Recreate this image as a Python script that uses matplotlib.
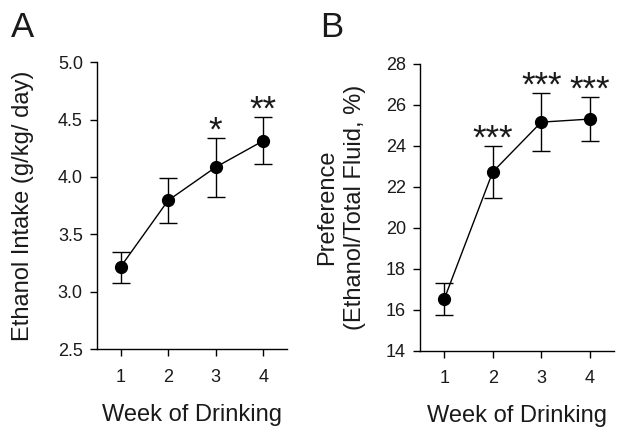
import matplotlib
matplotlib.use("Agg")
import matplotlib.pyplot as plt

plt.rcParams['font.family'] = ['Liberation Sans', 'DejaVu Sans']

weeks = [1, 2, 3, 4]
intake_mean = [3.215, 3.795, 4.085, 4.315]
intake_err = [0.135, 0.195, 0.257, 0.205]
intake_stars = ["", "", "*", "**"]

pref_mean = [16.52, 22.73, 25.16, 25.31]
pref_err = [0.77, 1.27, 1.43, 1.08]
pref_stars = ["", "***", "***", "***"]

TXT = '#1a1a1a'

fig = plt.figure(figsize=(6.24, 4.38), dpi=100)
axA = fig.add_axes([0.155, 0.203, 0.305, 0.655])
axB = fig.add_axes([0.673, 0.199, 0.311, 0.655])

def style(ax):
    for s in ['top', 'right']:
        ax.spines[s].set_visible(False)
    for s in ['left', 'bottom']:
        ax.spines[s].set_linewidth(1.0)
    ax.tick_params(axis='y', direction='out', length=5, width=1.0, labelsize=13,
                   pad=5, labelcolor=TXT)
    ax.tick_params(axis='x', direction='out', length=5, width=1.0, labelsize=13,
                   pad=9, labelcolor=TXT)
    ax.set_xlim(0.5, 4.5)
    ax.set_xticks(weeks)

def draw(ax, mean, err, stars):
    ax.errorbar(weeks, mean, yerr=err, fmt='o-', color='black', ms=8.5,
                lw=1.0, elinewidth=1.0, capsize=6.5, capthick=1.0)
    for x, m, e, s in zip(weeks, mean, err, stars):
        if s:
            ax.annotate(s, (x, m + e), xytext=(0, -2), textcoords='offset points',
                        ha='center', va='baseline', fontsize=25, color=TXT)

style(axA)
axA.set_ylim(2.5, 5.0)
axA.set_yticks([2.5, 3.0, 3.5, 4.0, 4.5, 5.0])
axA.set_yticklabels(["2.5", "3.0", "3.5", "4.0", "4.5", "5.0"])
draw(axA, intake_mean, intake_err, intake_stars)
axA.set_ylabel("Ethanol Intake (g/kg/ day)", fontsize=17, labelpad=17, color=TXT)
axA.set_xlabel("Week of Drinking", fontsize=17, labelpad=13, color=TXT)

style(axB)
axB.set_ylim(14, 28)
axB.set_yticks([14, 16, 18, 20, 22, 24, 26, 28])
draw(axB, pref_mean, pref_err, pref_stars)
axB.set_ylabel("Preference\n(Ethanol/Total Fluid, %)", fontsize=17,
               labelpad=14, linespacing=1.4, color=TXT)
axB.set_xlabel("Week of Drinking", fontsize=17, labelpad=13, color=TXT)

fig.text(0.018, 0.975, "A", fontsize=25, va='top', ha='left', color=TXT)
fig.text(0.513, 0.975, "B", fontsize=25, va='top', ha='left', color=TXT)

fig.savefig("out.png", dpi=100)
